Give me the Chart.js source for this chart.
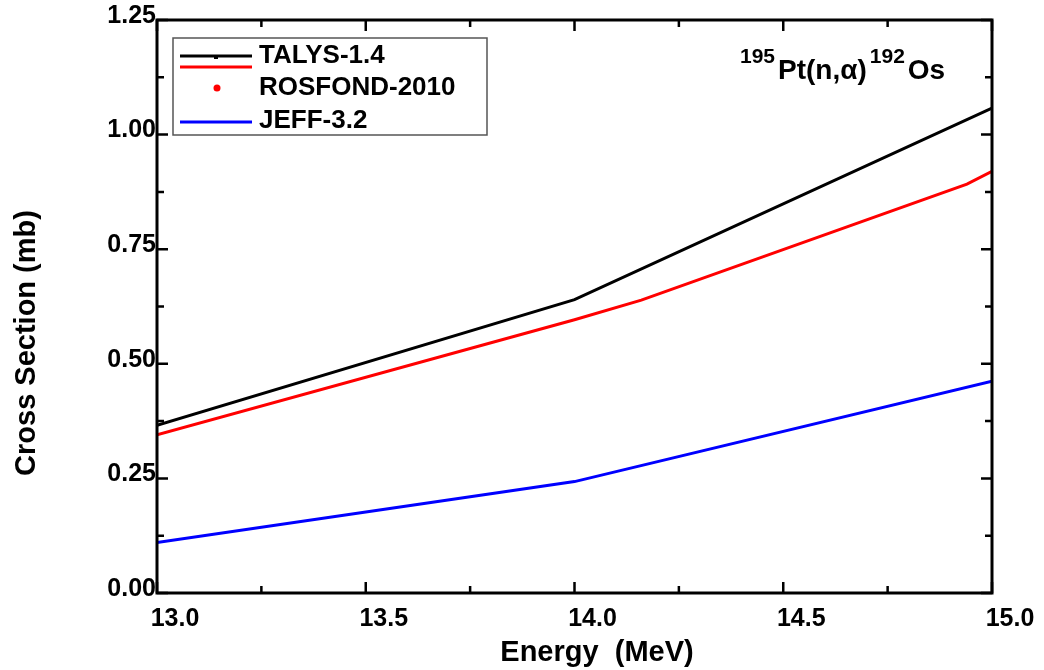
<!DOCTYPE html>
<html>
<head>
<meta charset="utf-8">
<script src="https://cdn.jsdelivr.net/npm/chart.js@4.4.0/dist/chart.umd.min.js"></script>
<style>
  body { margin: 0; background: #fff; }
  canvas { display: block; }
</style>
</head>
<body>
<canvas id="myChart" width="1044" height="670"></canvas>
<script>
// data
var talysE = [13.0, 14.0, 15.0];
var talysXS = [0.366, 0.640, 1.058];

var rosfondE = [13.0, 14.0, 14.16, 14.94, 15.0];
var rosfondXS = [0.345, 0.596, 0.639, 0.892, 0.920];

var jeffE = [13.0, 14.0, 15.0];
var jeffXS = [0.110, 0.243, 0.462];

var seriesNames = ["TALYS-1.4", "ROSFOND-2010", "JEFF-3.2"];
var xTitle = "Energy  (MeV)";
var yTitle = "Cross Section (mb)";

var FONT = "'Liberation Sans', Arial, sans-serif";

function pts(xs, ys) {
  return xs.map(function (x, i) { return { x: x, y: ys[i] }; });
}

// frame with inward ticks on all four sides
var framePlugin = {
  id: "frame",
  afterDatasetsDraw: function (chart) {
    var ctx = chart.ctx;
    var a = chart.chartArea;
    var xs = chart.scales.x, ys = chart.scales.y;
    ctx.save();
    ctx.strokeStyle = "#000";
    ctx.lineWidth = 3;
    ctx.strokeRect(a.left, a.top, a.right - a.left, a.bottom - a.top);
    ctx.lineWidth = 2.5;
    ctx.beginPath();
    for (var v = 13; v <= 15.0001; v += 0.25) {
      var px = xs.getPixelForValue(v);
      var len = (Math.round(v * 4) % 2 == 0) ? 11 : 7;
      ctx.moveTo(px, a.bottom); ctx.lineTo(px, a.bottom - len);
      ctx.moveTo(px, a.top); ctx.lineTo(px, a.top + len);
    }
    for (var w = 0; w <= 1.2501; w += 0.125) {
      var py = ys.getPixelForValue(w);
      var l2 = (Math.round(w * 8) % 2 == 0) ? 11 : 7;
      ctx.moveTo(a.left, py); ctx.lineTo(a.left + l2, py);
      ctx.moveTo(a.right, py); ctx.lineTo(a.right - l2, py);
    }
    ctx.stroke();
    ctx.restore();
  }
};

// axis titles, legend box and reaction label
var textPlugin = {
  id: "texts",
  afterDraw: function (chart) {
    var ctx = chart.ctx;
    ctx.save();
    ctx.fillStyle = "#000";

    // axis titles
    ctx.font = "bold 29px " + FONT;
    ctx.textAlign = "center";
    ctx.textBaseline = "middle";
    ctx.fillText(xTitle, 597, 653);
    ctx.save();
    ctx.translate(27, 343);
    ctx.rotate(-Math.PI / 2);
    ctx.fillText(yTitle, 0, 0);
    ctx.restore();

    // legend
    ctx.strokeStyle = "#555";
    ctx.lineWidth = 1.5;
    ctx.strokeRect(173, 38, 314, 97);
    ctx.lineWidth = 3;
    ctx.strokeStyle = "#000";
    ctx.beginPath(); ctx.moveTo(180, 56); ctx.lineTo(252, 56); ctx.stroke();
    ctx.fillRect(214, 55, 4, 4);
    ctx.strokeStyle = "#ff0000";
    ctx.beginPath(); ctx.moveTo(180, 67); ctx.lineTo(252, 67); ctx.stroke();
    ctx.fillStyle = "#ff0000";
    ctx.beginPath(); ctx.arc(217, 88, 3.5, 0, Math.PI * 2); ctx.fill();
    ctx.strokeStyle = "#0000ff";
    ctx.beginPath(); ctx.moveTo(180, 122); ctx.lineTo(252, 122); ctx.stroke();

    ctx.fillStyle = "#000";
    ctx.font = "bold 26px " + FONT;
    ctx.textAlign = "left";
    ctx.fillText(seriesNames[0], 259, 56);
    ctx.fillText(seriesNames[1], 259, 88);
    ctx.fillText(seriesNames[2], 259, 121);

    // reaction label 195Pt(n,a)192Os, pieces flowed left to right
    ctx.textBaseline = "alphabetic";
    var parts = [
      ["195", 21, 63],
      ["Pt(n,\u03b1)", 28, 79],
      ["192", 21, 63],
      ["Os", 28, 79]
    ];
    var cx = 740;
    parts.forEach(function (p) {
      ctx.font = "bold " + p[1] + "px " + FONT;
      ctx.fillText(p[0], cx, p[2]);
      cx += ctx.measureText(p[0]).width + 3;
    });
    ctx.restore();
  }
};

var ctx = document.getElementById("myChart");

var chart = new Chart(ctx, {
  type: "line",
  data: {
    datasets: [
      {
        label: seriesNames[0],
        data: pts(talysE, talysXS),
        borderColor: "#000000",
        borderWidth: 3,
        pointRadius: 0,
        tension: 0
      },
      {
        label: seriesNames[1],
        data: pts(rosfondE, rosfondXS),
        borderColor: "#ff0000",
        borderWidth: 3,
        pointRadius: 0,
        tension: 0
      },
      {
        label: seriesNames[2],
        data: pts(jeffE, jeffXS),
        borderColor: "#0000ff",
        borderWidth: 3,
        pointRadius: 0,
        tension: 0
      }
    ]
  },
  options: {
    responsive: false,
    animation: false,
    devicePixelRatio: 1,
    layout: { padding: { top: 20, right: 52, left: 0, bottom: 0 } },
    plugins: {
      legend: { display: false },
      tooltip: { enabled: false }
    },
    scales: {
      x: {
        type: "linear",
        min: 13,
        max: 15,
        grid: { display: false, drawTicks: false },
        border: { display: false },
        ticks: {
          stepSize: 0.5,
          color: "#000",
          font: { family: FONT, size: 25, weight: "bold" },
          padding: 11,
          labelOffset: 18,
          maxRotation: 0,
          callback: function (v) { return v.toFixed(1); }
        },
        afterFit: function (s) { s.height = 77; }
      },
      y: {
        min: 0,
        max: 1.25,
        grid: { display: false, drawTicks: false },
        border: { display: false },
        ticks: {
          stepSize: 0.25,
          color: "#000",
          font: { family: FONT, size: 25, weight: "bold" },
          padding: 1,
          labelOffset: -4,
          callback: function (v) { return v.toFixed(2); }
        },
        afterFit: function (s) { s.width = 157; }
      }
    }
  },
  plugins: [framePlugin, textPlugin]
});
</script>
</body>
</html>
